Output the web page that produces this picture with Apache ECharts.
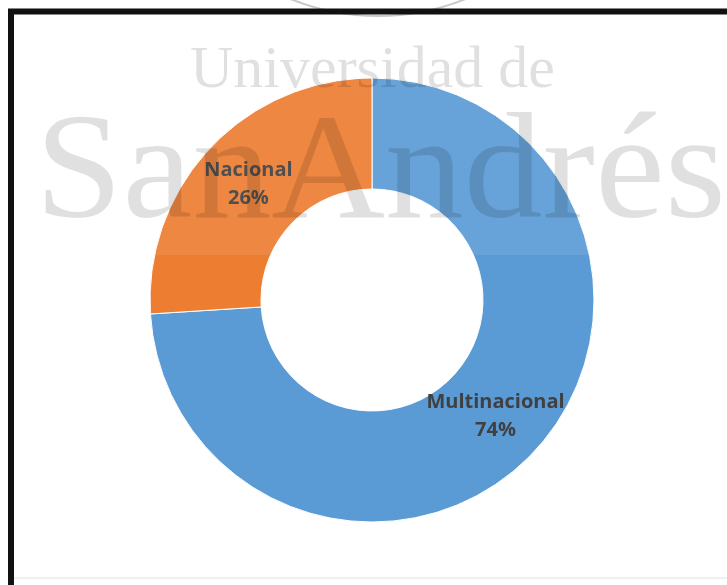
<!DOCTYPE html>
<html>
<head>
<meta charset="utf-8">
<script src="https://cdn.jsdelivr.net/npm/echarts@6/dist/echarts.min.js"></script>
<style>
html,body{margin:0;padding:0;background:#fff;}
#chart{width:727px;height:585px;}
</style>
</head>
<body>
<div id="chart"></div>
<script>
const categories = ['Multinacional', 'Nacional'];
const values = [74, 26];
const colors = ['#5B9BD5', '#ED7D31'];

const chart = echarts.init(document.getElementById('chart'));
chart.setOption({
  backgroundColor: '#ffffff',
  animation: false,
  series: [{
    type: 'pie',
    z: 2,
    center: [372, 300],
    radius: [111, 222],
    startAngle: 90,
    clockwise: true,
    percentPrecision: 0,
    itemStyle: { borderColor: '#ffffff', borderWidth: 1 },
    label: {
      show: true,
      position: 'inside',
      formatter: '{b}\n{d}%',
      fontFamily: 'Open Sans',
      fontWeight: 'bold',
      fontSize: 20,
      lineHeight: 28,
      color: '#404040',
      textBorderWidth: 0
    },
    labelLine: { show: false },
    emphasis: { disabled: true },
    data: categories.map((c, i) => ({ name: c, value: values[i], itemStyle: { color: colors[i] } }))
  }],
  graphic: [
    { type: 'rect', z: 50, silent: true, shape: { x: 14, y: 18, width: 713, height: 237 },
      style: { fill: 'rgba(255,255,255,0.08)' } },
    { type: 'text', z: 60, silent: true, x: 190, y: 71,
      style: { text: 'Universidad de', font: '60px "Liberation Serif"', fill: 'rgba(0,0,0,0.12)', verticalAlign: 'middle', align: 'left' } },
    { type: 'text', z: 60, silent: true, x: 35, y: 178, scaleX: 1.05,
      style: { text: 'SanAndrés', font: '150px "Liberation Serif"', fill: 'rgba(0,0,0,0.12)', verticalAlign: 'middle', align: 'left' } },
    { type: 'circle', z: 70, silent: true, shape: { cx: 378, cy: -218, r: 234 },
      style: { fill: 'none', stroke: '#c8c8c8', lineWidth: 2 } },
    { type: 'rect', z: 80, silent: true, shape: { x: 11, y: 11.5, width: 760, height: 640 },
      style: { fill: 'none', stroke: '#111111', lineWidth: 6 } },
    { type: 'line', z: 80, silent: true, shape: { x1: 14, y1: 578, x2: 727, y2: 578 },
      style: { stroke: '#f0f0f0', lineWidth: 2 } }
  ]
});
</script>
</body>
</html>
